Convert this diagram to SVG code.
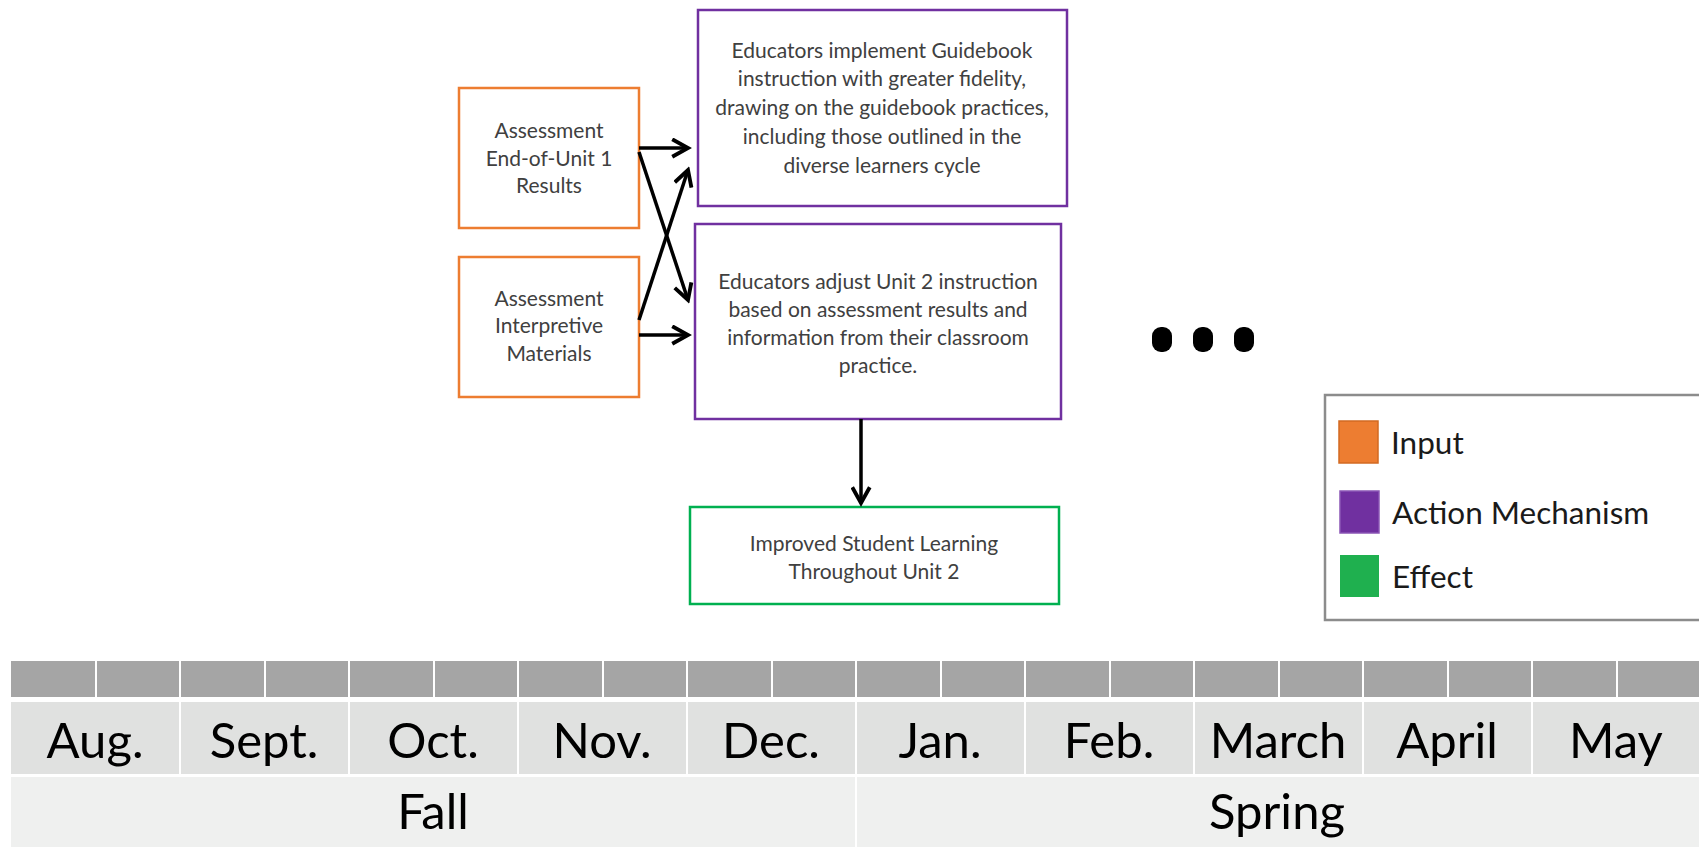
<svg xmlns="http://www.w3.org/2000/svg" width="1699" height="847" viewBox="0 0 1699 847">
  <style>
    .box { fill: #ffffff; stroke-width: 2.5; }
    .input { stroke: #ed7d31; }
    .action { stroke: #7030a0; }
    .effect { stroke: #00b050; }
    .node-text { font-family: Lato, "Liberation Sans", sans-serif; font-size: 21px; fill: #404040; text-anchor: middle; }
    .conn { stroke: #000000; stroke-width: 3.5; fill: none; }
    .legend-text { font-family: Lato, "Liberation Sans", sans-serif; font-size: 31.5px; fill: #1a1a1a; }
    .month { font-family: Lato, "Liberation Sans", sans-serif; font-size: 49px; fill: #000000; text-anchor: middle; }
    .tick { fill: #a5a5a5; }
    .mrow { fill: #e0e1e0; }
    .srow { fill: #eff0ef; }
    .sep { stroke: #ffffff; stroke-width: 2; }
  </style>
  <defs>
    <marker id="arrow" viewBox="0 0 12 12" refX="10" refY="6" markerWidth="6" markerHeight="6" orient="auto" markerUnits="strokeWidth">
      <path d="M1,1 L10,6 L1,11" fill="none" stroke="#000000" stroke-width="2.2"/>
    </marker>
  </defs>

  <rect width="1699" height="847" fill="#ffffff"/>

  <!-- input nodes -->
  <g id="input-end-of-unit">
    <rect class="box input" x="459" y="88" width="180" height="140"/>
    <text class="node-text" x="549" y="138">Assessment</text>
    <text class="node-text" x="549" y="166">End-of-Unit 1</text>
    <text class="node-text" x="549" y="193">Results</text>
  </g>
  <g id="input-interpretive">
    <rect class="box input" x="459" y="257" width="180" height="140"/>
    <text class="node-text" x="549" y="306">Assessment</text>
    <text class="node-text" x="549" y="333">Interpretive</text>
    <text class="node-text" x="549" y="361">Materials</text>
  </g>

  <!-- action mechanisms -->
  <g id="action-fidelity">
    <rect class="box action" x="698" y="10" width="369" height="196"/>
    <text class="node-text" x="882" y="58">Educators implement Guidebook</text>
    <text class="node-text" x="882" y="86">instruction with greater fidelity,</text>
    <text class="node-text" x="882" y="115">drawing on the guidebook practices,</text>
    <text class="node-text" x="882" y="144">including those outlined in the</text>
    <text class="node-text" x="882" y="173">diverse learners cycle</text>
  </g>
  <g id="action-adjust">
    <rect class="box action" x="695" y="224" width="366" height="195"/>
    <text class="node-text" x="878" y="289">Educators adjust Unit 2 instruction</text>
    <text class="node-text" x="878" y="317">based on assessment results and</text>
    <text class="node-text" x="878" y="345">information from their classroom</text>
    <text class="node-text" x="878" y="373">practice.</text>
  </g>

  <!-- effect -->
  <g id="effect-learning">
    <rect class="box effect" x="690" y="507" width="369" height="97"/>
    <text class="node-text" x="874" y="551">Improved Student Learning</text>
    <text class="node-text" x="874" y="579">Throughout Unit 2</text>
  </g>

  <!-- connectors -->
  <g id="connectors">
    <line class="conn" x1="639" y1="148" x2="688" y2="148" marker-end="url(#arrow)"/>
    <line class="conn" x1="639" y1="152" x2="688" y2="300" marker-end="url(#arrow)"/>
    <line class="conn" x1="639" y1="320" x2="688" y2="170" marker-end="url(#arrow)"/>
    <line class="conn" x1="639" y1="335" x2="688" y2="335" marker-end="url(#arrow)"/>
    <line class="conn" x1="861" y1="419" x2="861" y2="503" marker-end="url(#arrow)"/>
  </g>

  <!-- continuation dots -->
  <g id="ellipsis" fill="#000000">
    <rect x="1152" y="327" width="20" height="25" rx="9"/>
    <rect x="1193" y="327" width="20" height="25" rx="9"/>
    <rect x="1234" y="327" width="20" height="25" rx="9"/>
  </g>

  <!-- legend -->
  <g id="legend">
    <rect x="1325" y="395" width="380" height="225" fill="#ffffff" stroke="#8c8c8c" stroke-width="2.5"/>
    <rect x="1339" y="421" width="39" height="42" fill="#ed7d31" stroke="#d26a22" stroke-width="1.5"/>
    <text class="legend-text" x="1391" y="454">Input</text>
    <rect x="1340" y="491" width="39" height="42" fill="#7030a0" stroke="#8a55b5" stroke-width="1.5"/>
    <text class="legend-text" x="1392" y="524">Action Mechanism</text>
    <rect x="1340" y="555" width="39" height="42" fill="#1fb04f"/>
    <text class="legend-text" x="1392" y="588">Effect</text>
  </g>

  <!-- timeline -->
  <g id="timeline">
    <rect class="tick" x="11" y="661" width="1688" height="36"/>
    <rect class="mrow" x="11" y="702" width="1688" height="72"/>
    <rect class="srow" x="11" y="777" width="1688" height="70"/>
    <g class="sep">
      <line x1="96" y1="661" x2="96" y2="697"/>
      <line x1="180" y1="661" x2="180" y2="774"/>
      <line x1="265" y1="661" x2="265" y2="697"/>
      <line x1="349" y1="661" x2="349" y2="774"/>
      <line x1="434" y1="661" x2="434" y2="697"/>
      <line x1="518" y1="661" x2="518" y2="774"/>
      <line x1="603" y1="661" x2="603" y2="697"/>
      <line x1="687" y1="661" x2="687" y2="774"/>
      <line x1="772" y1="661" x2="772" y2="697"/>
      <line x1="856" y1="661" x2="856" y2="847"/>
      <line x1="941" y1="661" x2="941" y2="697"/>
      <line x1="1025" y1="661" x2="1025" y2="774"/>
      <line x1="1110" y1="661" x2="1110" y2="697"/>
      <line x1="1194" y1="661" x2="1194" y2="774"/>
      <line x1="1279" y1="661" x2="1279" y2="697"/>
      <line x1="1363" y1="661" x2="1363" y2="774"/>
      <line x1="1448" y1="661" x2="1448" y2="697"/>
      <line x1="1532" y1="661" x2="1532" y2="774"/>
      <line x1="1617" y1="661" x2="1617" y2="697"/>
    </g>
    <text class="month" x="95" y="758">Aug.</text>
    <text class="month" x="264" y="758">Sept.</text>
    <text class="month" x="433" y="758">Oct.</text>
    <text class="month" x="602" y="758">Nov.</text>
    <text class="month" x="771" y="758">Dec.</text>
    <text class="month" x="940" y="758">Jan.</text>
    <text class="month" x="1109" y="758">Feb.</text>
    <text class="month" x="1278" y="758">March</text>
    <text class="month" x="1447" y="758">April</text>
    <text class="month" x="1616" y="758">May</text>
    <text class="month" x="433" y="829">Fall</text>
    <text class="month" x="1277" y="829">Spring</text>
  </g>
</svg>
